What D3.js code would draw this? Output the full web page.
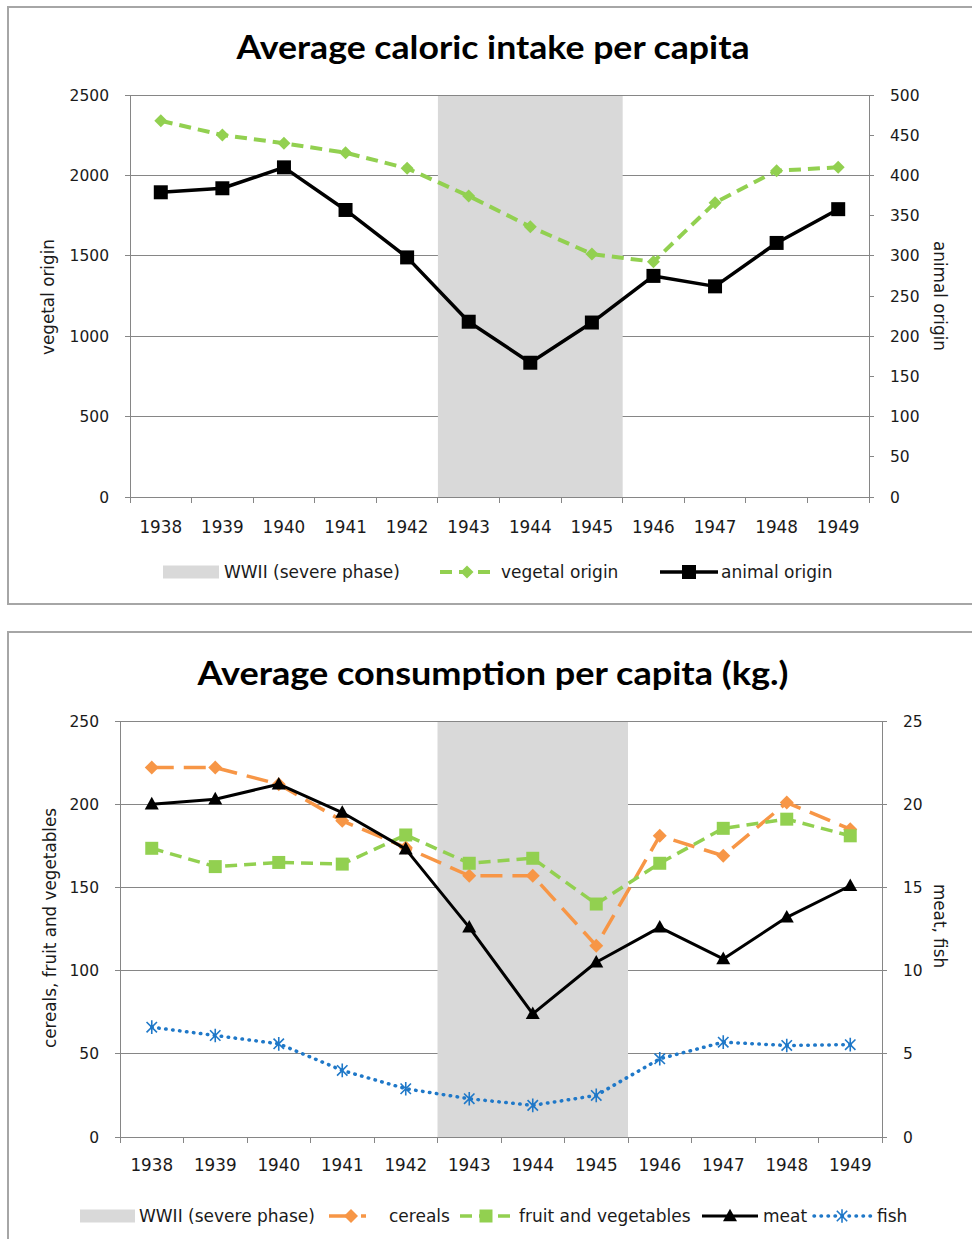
<!DOCTYPE html>
<html><head><meta charset="utf-8">
<script src="https://cdn.jsdelivr.net/npm/d3@7"></script>
<style>body{margin:0;background:#fff;} svg{display:block}</style>
</head><body>
<script>
// ---------- data ----------
const years = ["1938","1939","1940","1941","1942","1943","1944","1945","1946","1947","1948","1949"];
const warYears = ["1943","1944","1945"];

// chart 1: Average caloric intake per capita
const vegetalOrigin = [2340,2251,2200,2141,2044,1872,1681,1511,1463,1830,2029,2050];
const animalOrigin  = [379,384,410,357,298,218,167,217,275,262,316,358];
const caloricLeftTicks  = [0,500,1000,1500,2000,2500];
const caloricRightTicks = [0,50,100,150,200,250,300,350,400,450,500];

// chart 2: Average consumption per capita (kg.)
const cereals  = [222,222,212,190,174,157,157,115,181,169,201,185];
const fruitVeg = [173.5,162.5,165,164,181.5,164.5,167.5,140,164.5,185.5,191,181];
const meat     = [20.0,20.3,21.2,19.5,17.3,12.6,7.4,10.5,12.6,10.7,13.2,15.1];
const fish     = [6.6,6.1,5.6,4.0,2.9,2.3,1.9,2.5,4.7,5.7,5.5,5.55];
const consLeftTicks  = [0,50,100,150,200,250];
const consRightTicks = [0,5,10,15,20,25];

// ---------- drawing ----------
const W = 972, H = 1239;
const svg = d3.select("body").append("svg").attr("width", W).attr("height", H);

const GRID = "#868686", TXT = "#1a1a1a", SHADE = "#D9D9D9";
const TICKFONT = "'DejaVu Sans', Verdana, sans-serif";

function markerPath(type, s) {
  switch (type) {
    case "diamond": return `M0,${-s}L${s},0L0,${s}L${-s},0Z`;
    case "square": return `M${-s},${-s}h${2*s}v${2*s}h${-2*s}Z`;
    case "triangle": return `M0,${-s*1.05}L${s},${s*0.75}L${-s},${s*0.75}Z`;
    case "asterisk": return `M${-s*0.8},${-s*0.8}L${s*0.8},${s*0.8}M${-s*0.8},${s*0.8}L${s*0.8},${-s*0.8}M0,${-s*1.05}L0,${s*1.05}`;
  }
}
function drawMarker(g, type, s, color, x, y) {
  const p = g.append("path").attr("d", markerPath(type, s)).attr("transform", `translate(${x},${y})`);
  if (type === "asterisk") p.attr("fill", "none").attr("stroke", color).attr("stroke-width", 1.6);
  else p.attr("fill", color);
}
function styleLine(sel, s) {
  sel.attr("fill", "none").attr("stroke", s.color).attr("stroke-width", s.width)
     .attr("stroke-linecap", s.cap || "butt").attr("stroke-linejoin", "round");
  if (s.dash) sel.attr("stroke-dasharray", s.dash);
}

function drawChart(cfg) {
  const g = svg.append("g");
  // frame
  g.append("rect").attr("x", cfg.box.x).attr("y", cfg.box.y).attr("width", cfg.box.w).attr("height", cfg.box.h)
    .attr("fill", "#fff").attr("stroke", "#a6a6a6").attr("stroke-width", 2);
  // title
  g.append("text").attr("x", cfg.titleX).attr("y", cfg.titleY).attr("text-anchor", "middle")
    .attr("font-family", "Lato, 'Open Sans', sans-serif").attr("font-weight", "bold").attr("font-size", cfg.titleSize)
    .attr("textLength", cfg.titleLen).attr("lengthAdjust", "spacingAndGlyphs")
    .attr("fill", "#000").text(cfg.title);

  const p = cfg.plot;
  const x = d3.scaleBand().domain(years).range([p.left, p.right]).padding(0);
  const yL = d3.scaleLinear().domain([0, cfg.leftMax]).range([p.bottom, p.top]);
  const yR = d3.scaleLinear().domain([0, cfg.rightMax]).range([p.bottom, p.top]);
  const cx = d => x(d) + x.bandwidth() / 2;

  // gridlines
  g.append("g").selectAll("line").data(cfg.leftTicks).join("line")
    .attr("x1", p.left).attr("x2", p.right).attr("y1", d => yL(d)).attr("y2", d => yL(d))
    .attr("stroke", GRID).attr("stroke-width", 1).attr("shape-rendering", "crispEdges");
  // shading WWII
  g.append("rect").attr("x", x(warYears[0])).attr("y", p.top + 1)
    .attr("width", x(warYears[warYears.length - 1]) + x.bandwidth() - x(warYears[0]))
    .attr("height", p.bottom - p.top - 1).attr("fill", SHADE);
  // axis lines
  const ax = g.append("g").attr("stroke", GRID).attr("stroke-width", 1).attr("shape-rendering", "crispEdges");
  ax.append("line").attr("x1", p.left).attr("x2", p.left).attr("y1", p.top).attr("y2", p.bottom);
  ax.append("line").attr("x1", p.right).attr("x2", p.right).attr("y1", p.top).attr("y2", p.bottom);
  ax.append("line").attr("x1", p.left).attr("x2", p.right).attr("y1", p.bottom).attr("y2", p.bottom);
  // ticks
  ax.selectAll(".lt").data(cfg.leftTicks).join("line").attr("x1", p.left - 5).attr("x2", p.left)
    .attr("y1", d => yL(d)).attr("y2", d => yL(d));
  ax.selectAll(".rt").data(cfg.rightTicks).join("line").attr("x1", p.right).attr("x2", p.right + 5)
    .attr("y1", d => yR(d)).attr("y2", d => yR(d));
  const bounds = years.map(d => x(d)).concat([x(years[years.length - 1]) + x.bandwidth()]);
  ax.selectAll(".xt").data(bounds).join("line").attr("x1", d => d).attr("x2", d => d)
    .attr("y1", p.bottom).attr("y2", p.bottom + 6);

  // tick labels
  const tl = g.append("g").attr("font-family", TICKFONT).attr("font-size", 15.5).attr("fill", TXT);
  tl.selectAll(".ll").data(cfg.leftTicks).join("text").attr("x", p.left - cfg.labelGap).attr("y", d => yL(d))
    .attr("dy", "0.36em").attr("text-anchor", "end").text(d => d);
  tl.selectAll(".rl").data(cfg.rightTicks).join("text").attr("x", p.right + cfg.labelGap).attr("y", d => yR(d))
    .attr("dy", "0.36em").attr("text-anchor", "start").text(d => d);
  tl.selectAll(".xl").data(years).join("text").attr("x", d => cx(d)).attr("y", cfg.xLabelY)
    .attr("dy", "0.36em").attr("text-anchor", "middle").attr("font-size", 16.8).text(d => d);

  // axis titles
  g.append("text").attr("transform", `translate(${cfg.leftTitleX},${cfg.leftTitleY}) rotate(-90)`)
    .attr("text-anchor", "middle").attr("dy", "0.36em").attr("font-family", TICKFONT).attr("font-size", 16.8)
    .attr("fill", TXT).text(cfg.leftTitle);
  g.append("text").attr("transform", `translate(${cfg.rightTitleX},${cfg.rightTitleY}) rotate(90)`)
    .attr("text-anchor", "middle").attr("dy", "0.36em").attr("font-family", TICKFONT).attr("font-size", 16.8)
    .attr("fill", TXT).text(cfg.rightTitle);

  // series
  cfg.series.forEach(s => {
    const ys = s.axis === "left" ? yL : yR;
    const line = d3.line().x((d, i) => cx(years[i])).y(d => ys(d));
    g.append("path").datum(s.values).attr("d", line).call(styleLine, s);
    const mg = g.append("g");
    s.values.forEach((v, i) => drawMarker(mg, s.marker, s.msize, s.color, cx(years[i]), ys(v)));
  });

  // legend
  const lg = g.append("g").attr("font-family", TICKFONT).attr("font-size", 17).attr("fill", TXT);
  const ly = cfg.legendY;
  lg.append("rect").attr("x", cfg.legendRect[0]).attr("y", ly - 6.5).attr("width", cfg.legendRect[1] - cfg.legendRect[0])
    .attr("height", 13).attr("fill", SHADE);
  lg.append("text").attr("x", cfg.legendRect[2]).attr("y", ly).attr("dy", "0.36em").text("WWII (severe phase)");
  cfg.series.forEach(s => {
    const L = s.legend;
    lg.append("line").attr("x1", L[0]).attr("x2", L[1]).attr("y1", ly).attr("y2", ly).call(styleLine, s);
    drawMarker(lg, s.marker, s.msize, s.color, L[2], ly);
    lg.append("text").attr("x", L[3]).attr("y", ly).attr("dy", "0.36em").text(s.name);
  });
}

const GREEN = "#92D050", ORANGE = "#F79646", BLUE = "#1f78c8";

drawChart({
  box: {x: 8, y: 7, w: 975, h: 597},
  title: "Average caloric intake per capita", titleX: 493, titleY: 59, titleSize: 32, titleLen: 513,
  plot: {left: 130, right: 869, top: 95, bottom: 497},
  leftMax: 2500, rightMax: 500, leftTicks: caloricLeftTicks, rightTicks: caloricRightTicks,
  labelGap: 21, xLabelY: 527,
  leftTitle: "vegetal origin", leftTitleX: 48, leftTitleY: 297,
  rightTitle: "animal origin", rightTitleX: 940, rightTitleY: 296,
  legendY: 572, legendRect: [163, 219, 224],
  series: [
    {name: "vegetal origin", values: vegetalOrigin, axis: "left", color: GREEN, width: 4, dash: "12,7",
     marker: "diamond", msize: 6.5, legend: [440, 495, 467, 501]},
    {name: "animal origin", values: animalOrigin, axis: "right", color: "#000", width: 3.5,
     marker: "square", msize: 7, legend: [660, 718, 689, 721]}
  ]
});

drawChart({
  box: {x: 8, y: 632, w: 975, h: 620},
  title: "Average consumption per capita (kg.)", titleX: 493, titleY: 685, titleSize: 32, titleLen: 591,
  plot: {left: 120, right: 882, top: 721, bottom: 1137},
  leftMax: 250, rightMax: 25, leftTicks: consLeftTicks, rightTicks: consRightTicks,
  labelGap: 21, xLabelY: 1165,
  leftTitle: "cereals, fruit and vegetables", leftTitleX: 50, leftTitleY: 928,
  rightTitle: "meat, fish", rightTitleX: 940, rightTitleY: 926,
  legendY: 1216, legendRect: [80, 135, 139],
  series: [
    {name: "cereals", values: cereals, axis: "left", color: ORANGE, width: 3.5, dash: "22,10",
     marker: "diamond", msize: 7, legend: [329, 366, 351, 389]},
    {name: "fruit and vegetables", values: fruitVeg, axis: "left", color: GREEN, width: 3.5, dash: "12,7",
     marker: "square", msize: 6.5, legend: [460, 512, 486, 519]},
    {name: "meat", values: meat, axis: "right", color: "#000", width: 3,
     marker: "triangle", msize: 7, legend: [702, 758, 730, 763]},
    {name: "fish", values: fish, axis: "right", color: BLUE, width: 3.5, dash: "0.5,6.5", cap: "round",
     marker: "asterisk", msize: 6.5, legend: [814, 872, 842, 877]}
  ]
});
</script>
</body></html>
